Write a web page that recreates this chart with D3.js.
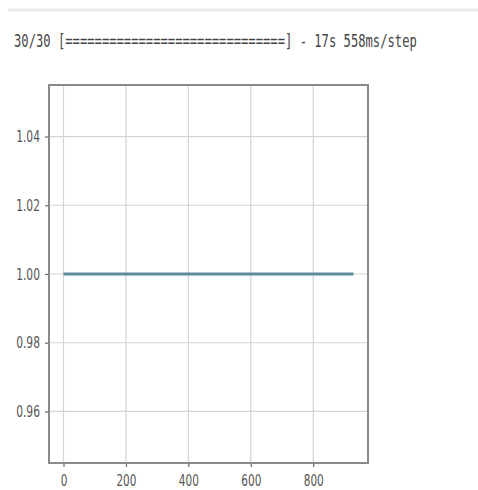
<!DOCTYPE html>
<html>
<head>
<meta charset="utf-8">
<script src="https://cdn.jsdelivr.net/npm/d3@7"></script>
<style>
  body { margin: 0; background: #fff; }
  svg { display: block; }
</style>
</head>
<body>
<div id="chart"></div>
<script>
// log line printed above the plot
const logText = '30/30 [==============================] - 17s 558ms/step';

// series: constant value over all steps
const steps = [0, 929];
const values = [1.0, 1.0];

const xTicks = [0, 200, 400, 600, 800];
const yTicks = [0.96, 0.98, 1.00, 1.02, 1.04];

const width = 478, height = 490;
const box = { left: 49, right: 368, top: 85, bottom: 463 };

const svg = d3.select('#chart').append('svg')
  .attr('width', width)
  .attr('height', height);

// faint separator at the top
svg.append('line')
  .attr('x1', 8).attr('x2', width)
  .attr('y1', 10).attr('y2', 10)
  .attr('stroke', '#ececec')
  .attr('stroke-width', 3);

// condensed monospace text, squeezed horizontally
svg.append('text')
  .attr('transform', 'translate(14,47) scale(0.676,1)')
  .attr('font-family', 'DejaVu Sans Mono')
  .attr('font-size', 18)
  .attr('fill', '#444')
  .text(logText);

// matplotlib-style 5% margins
const xPad = (steps[1] - steps[0]) * 0.05;
const x = d3.scaleLinear()
  .domain([steps[0] - xPad, steps[steps.length - 1] + xPad])
  .range([box.left, box.right]);

const y = d3.scaleLinear()
  .domain([0.945, 1.055])
  .range([box.bottom, box.top]);

// grid
svg.append('g')
  .selectAll('line')
  .data(xTicks)
  .join('line')
  .attr('x1', d => x(d)).attr('x2', d => x(d))
  .attr('y1', box.top).attr('y2', box.bottom)
  .attr('stroke', '#d4d4d4')
  .attr('stroke-width', 1.2);

svg.append('g')
  .selectAll('line')
  .data(yTicks)
  .join('line')
  .attr('x1', box.left).attr('x2', box.right)
  .attr('y1', d => y(d)).attr('y2', d => y(d))
  .attr('stroke', '#d4d4d4')
  .attr('stroke-width', 1.2);

// axes
const xAxis = svg.append('g')
  .attr('transform', `translate(0,${box.bottom})`)
  .call(d3.axisBottom(x).tickValues(xTicks).tickSize(4).tickFormat(d3.format('d')));

const yAxis = svg.append('g')
  .attr('transform', `translate(${box.left},0)`)
  .call(d3.axisLeft(y).tickValues(yTicks).tickSize(4).tickFormat(d3.format('.2f')));

[xAxis, yAxis].forEach(g => {
  g.select('.domain').remove();
  g.selectAll('.tick line').attr('stroke', '#666').attr('stroke-width', 1.2);
  g.selectAll('.tick text')
    .attr('fill', '#555')
    .attr('font-family', 'DejaVu Sans')
    .attr('font-size', 16);
});

xAxis.selectAll('.tick text')
  .attr('y', 0)
  .attr('dy', '0.71em')
  .attr('font-size', 15)
  .attr('transform', 'translate(0,12) scale(0.7,1)');

yAxis.selectAll('.tick text')
  .attr('x', 0)
  .attr('transform', 'translate(-9,0) scale(0.67,1)');

// frame
svg.append('rect')
  .attr('x', box.left).attr('y', box.top)
  .attr('width', box.right - box.left)
  .attr('height', box.bottom - box.top)
  .attr('fill', 'none')
  .attr('stroke', '#8a8a8a')
  .attr('stroke-width', 2);

// series line
const line = d3.line()
  .x((d, i) => x(steps[i]))
  .y(d => y(d));

svg.append('path')
  .datum(values)
  .attr('d', line)
  .attr('fill', 'none')
  .attr('stroke', '#5f8b9c')
  .attr('stroke-width', 3);
</script>
</body>
</html>
